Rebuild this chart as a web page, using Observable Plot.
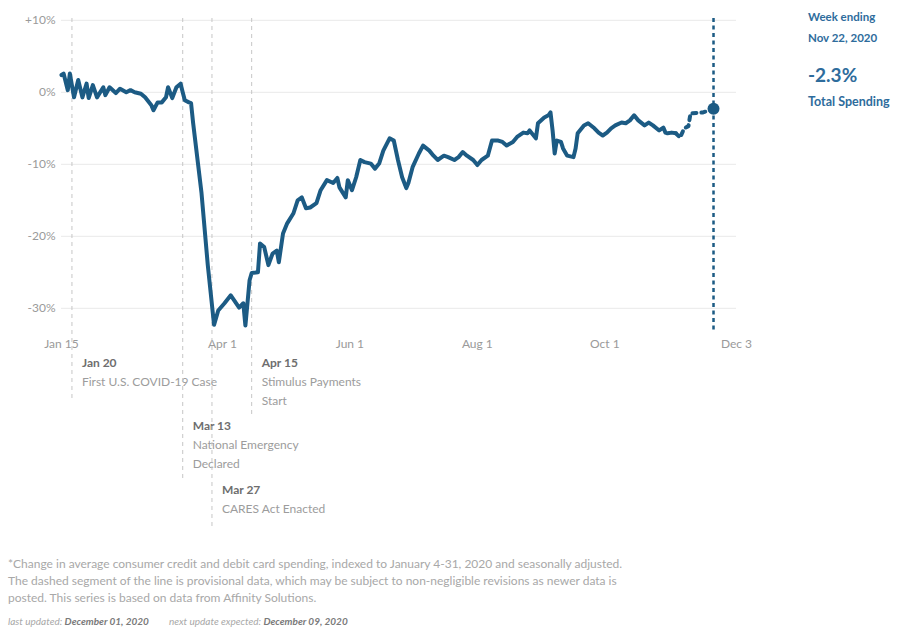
<!DOCTYPE html>
<html><head><meta charset="utf-8">
<script src="https://cdn.jsdelivr.net/npm/d3@7"></script>
<script src="https://cdn.jsdelivr.net/npm/@observablehq/plot@0.6"></script>
<style>
html,body{margin:0;padding:0;background:#fff;}
body{width:906px;height:627px;position:relative;overflow:hidden;font-family:Lato, "Noto Sans", sans-serif;}
#chart{position:absolute;left:0;top:0;}
.side{position:absolute;left:808px;color:#2e6c9c;font-weight:700;white-space:nowrap;}
#note{position:absolute;left:8px;top:555px;font-size:12px;line-height:17px;color:#a8a8a8;white-space:nowrap;}
#updated{position:absolute;left:8px;top:614px;font-size:10px;line-height:14px;color:#a8a8a8;font-style:italic;white-space:nowrap;}
#updated b{color:#7a7a7a;}
</style></head><body>
<div id="chart"></div>
<div class="side" style="top:6px;font-size:11.5px;line-height:21px;">Week ending<br>Nov 22, 2020</div>
<div class="side" style="top:63px;font-size:19px;line-height:24px;">-2.3%</div>
<div class="side" style="top:95px;font-size:12.5px;line-height:14px;">Total Spending</div>
<div id="note">*Change in average consumer credit and debit card spending, indexed to January 4-31, 2020 and seasonally adjusted.<br>The dashed segment of the line is provisional data, which may be subject to non-negligible revisions as newer data is<br>posted. This series is based on data from Affinity Solutions.</div>
<div id="updated">last updated: <b>December 01, 2020</b><span style="margin-left:20px">next update expected: <b>December 09, 2020</b></span></div>
<script>
// ---- data ----
const dates = [
"2020-01-15","2020-01-16","2020-01-18","2020-01-19","2020-01-21","2020-01-23","2020-01-25","2020-01-27","2020-01-28","2020-01-30",
"2020-02-01","2020-02-04","2020-02-05","2020-02-07","2020-02-10","2020-02-12","2020-02-15","2020-02-17","2020-02-19","2020-02-22",
"2020-02-24","2020-02-27","2020-02-28","2020-03-01","2020-03-03","2020-03-05","2020-03-06","2020-03-08","2020-03-10","2020-03-12",
"2020-03-13","2020-03-14","2020-03-16","2020-03-17","2020-03-18","2020-03-22","2020-03-25","2020-03-28","2020-03-30","2020-04-02",
"2020-04-05","2020-04-09","2020-04-11","2020-04-12","2020-04-14","2020-04-15","2020-04-18","2020-04-19","2020-04-21","2020-04-23",
"2020-04-25","2020-04-27","2020-04-28","2020-04-30","2020-05-02","2020-05-05","2020-05-07","2020-05-09","2020-05-11","2020-05-13",
"2020-05-16","2020-05-18","2020-05-21","2020-05-24","2020-05-26","2020-05-27","2020-05-30","2020-05-31","2020-06-02","2020-06-04",
"2020-06-06","2020-06-08","2020-06-11","2020-06-13","2020-06-15","2020-06-17","2020-06-20","2020-06-22","2020-06-24","2020-06-26",
"2020-06-28","2020-06-29","2020-07-01","2020-07-04","2020-07-06","2020-07-09","2020-07-11","2020-07-13","2020-07-16","2020-07-18",
"2020-07-21","2020-07-23","2020-07-25","2020-07-27","2020-07-30","2020-08-01","2020-08-03","2020-08-06","2020-08-08","2020-08-11",
"2020-08-13","2020-08-15","2020-08-18","2020-08-20","2020-08-23","2020-08-25","2020-08-26","2020-08-29","2020-08-30","2020-09-02",
"2020-09-04","2020-09-05","2020-09-06","2020-09-07","2020-09-08","2020-09-10","2020-09-11","2020-09-13","2020-09-16","2020-09-17",
"2020-09-18","2020-09-21","2020-09-23","2020-09-26","2020-09-28","2020-09-30","2020-10-02","2020-10-04","2020-10-06","2020-10-09",
"2020-10-11","2020-10-13","2020-10-15","2020-10-17","2020-10-20","2020-10-22","2020-10-24","2020-10-27","2020-10-29","2020-10-30",
"2020-10-31","2020-11-02","2020-11-04","2020-11-06","2020-11-08","2020-11-10","2020-11-11","2020-11-12","2020-11-17","2020-11-22"
];
const spending = [
2.4,2.6,0.3,2.6,-0.7,1.7,-0.7,1.2,-0.8,1.0,
-0.7,0.7,-0.4,0.7,-0.1,0.5,0.0,0.3,0.0,-0.2,
-0.7,-1.8,-2.5,-1.4,-1.4,-0.7,0.7,-0.8,0.7,1.2,
0.0,-1.1,-1.4,-1.5,-4.3,-14.0,-24.0,-32.3,-30.3,-29.3,
-28.2,-29.9,-29.3,-32.4,-26.1,-25.1,-25.0,-21.0,-21.5,-24.0,
-22.4,-22.0,-23.6,-19.6,-18.2,-16.8,-15.0,-14.6,-16.1,-16.0,
-15.4,-13.6,-12.2,-12.6,-11.9,-13.2,-14.6,-12.2,-13.6,-11.8,
-9.4,-9.7,-9.9,-10.6,-9.9,-8.1,-6.4,-6.7,-9.4,-11.8,
-13.3,-12.6,-10.4,-8.5,-7.4,-8.1,-8.8,-9.4,-8.8,-9.0,
-9.4,-9.0,-8.3,-8.8,-9.4,-10.1,-9.4,-8.8,-6.7,-6.7,
-6.9,-7.4,-6.9,-6.2,-5.6,-5.7,-5.3,-6.4,-4.3,-3.5,
-3.2,-2.8,-5.3,-8.5,-6.7,-6.9,-7.8,-8.8,-9.0,-7.8,
-5.7,-4.6,-4.3,-5.0,-5.6,-6.0,-5.6,-5.0,-4.6,-4.2,
-4.3,-3.9,-3.2,-3.9,-4.6,-4.2,-4.6,-5.3,-4.9,-5.6,
-5.7,-5.6,-5.7,-6.3,-5.0,-4.7,-2.9,-2.9,-2.8,-2.3
];
const provisionalStart = "2020-11-04";
const latestDate = "2020-11-22";
const latestValue = -2.3;
const eventDates = ["2020-01-20","2020-03-13","2020-03-27","2020-04-15"];
const eventTitles = ["Jan 20","Mar 13","Mar 27","Apr 15"];
const eventTexts = ["First U.S. COVID-19 Case","National Emergency\nDeclared","CARES Act Enacted","Stimulus Payments\nStart"];
const xTickDates = ["2020-01-15","2020-04-01","2020-06-01","2020-08-01","2020-10-01","2020-12-03"];
const yTickValues = [10,0,-10,-20,-30];

// ---- build ----
const lineColor = "#1c5b84";
const rows = dates.map((d,i)=>({date:new Date(d), value:spending[i]}));
const pStart = new Date(provisionalStart);
const solid = rows.filter(r=>r.date<=pStart);
const provisional = rows.filter(r=>r.date>=pStart);
const events = eventDates.map((d,i)=>({date:new Date(d), title:eventTitles[i], text:eventTexts[i]}));
// layout of annotation stack below the axis (styling, not data)
const layout = [{depth:69, dy:25},{depth:147, dy:88},{depth:197, dy:152},{depth:84, dy:25}];

const eventMarks = [];
events.forEach((ev,i)=>{
  const L = layout[i];
  eventMarks.push(Plot.ruleX([ev],{x:"date", stroke:"#c6c6c6", strokeWidth:1, strokeDasharray:"4,4", insetBottom:-L.depth}));
  eventMarks.push(Plot.text([ev],{x:"date", text:"title", frameAnchor:"bottom", dy:L.dy, dx:10, textAnchor:"start", lineAnchor:"top", fontWeight:"bold", fill:"#6e6e6e", fontSize:12}));
  eventMarks.push(Plot.text([ev],{x:"date", text:"text", frameAnchor:"bottom", dy:L.dy+14, dx:10, textAnchor:"start", lineAnchor:"top", fill:"#9c9c9c", fontSize:12, lineHeight:1.6}));
});

const chart = Plot.plot({
  width:906, height:540,
  marginLeft:61, marginRight:170, marginTop:18, marginBottom:207,
  style:{fontFamily:"Lato, 'Noto Sans', sans-serif", fontSize:"12px", color:"#9a9a9a", background:"transparent"},
  x:{type:"utc", domain:[new Date("2020-01-15"), new Date("2020-12-03")], ticks:xTickDates.map(d=>new Date(d)), tickFormat:d3.utcFormat("%b %-d"), tickSize:0, tickPadding:6, label:null},
  y:{domain:[-33.5,10.25], ticks:yTickValues, tickFormat:d=>(d>0?"+":"")+d+"%", tickSize:0, tickPadding:6, label:null},
  marks:[
    Plot.ruleY(yTickValues,{stroke:"#e9e9e9", strokeWidth:1}),
    ...eventMarks,
    Plot.ruleX([new Date(latestDate)],{stroke:lineColor, strokeWidth:2.5, strokeDasharray:"4,3.5"}),
    Plot.line(solid,{x:"date", y:"value", stroke:lineColor, strokeWidth:4, strokeLinejoin:"round", strokeLinecap:"round"}),
    Plot.line(provisional,{x:"date", y:"value", stroke:lineColor, strokeWidth:4, strokeDasharray:"4,5"}),
    Plot.dot([{date:new Date(latestDate), value:latestValue}],{x:"date", y:"value", r:6, fill:lineColor, stroke:"none"})
  ]
});
document.getElementById("chart").appendChild(chart);
</script>
</body></html>
